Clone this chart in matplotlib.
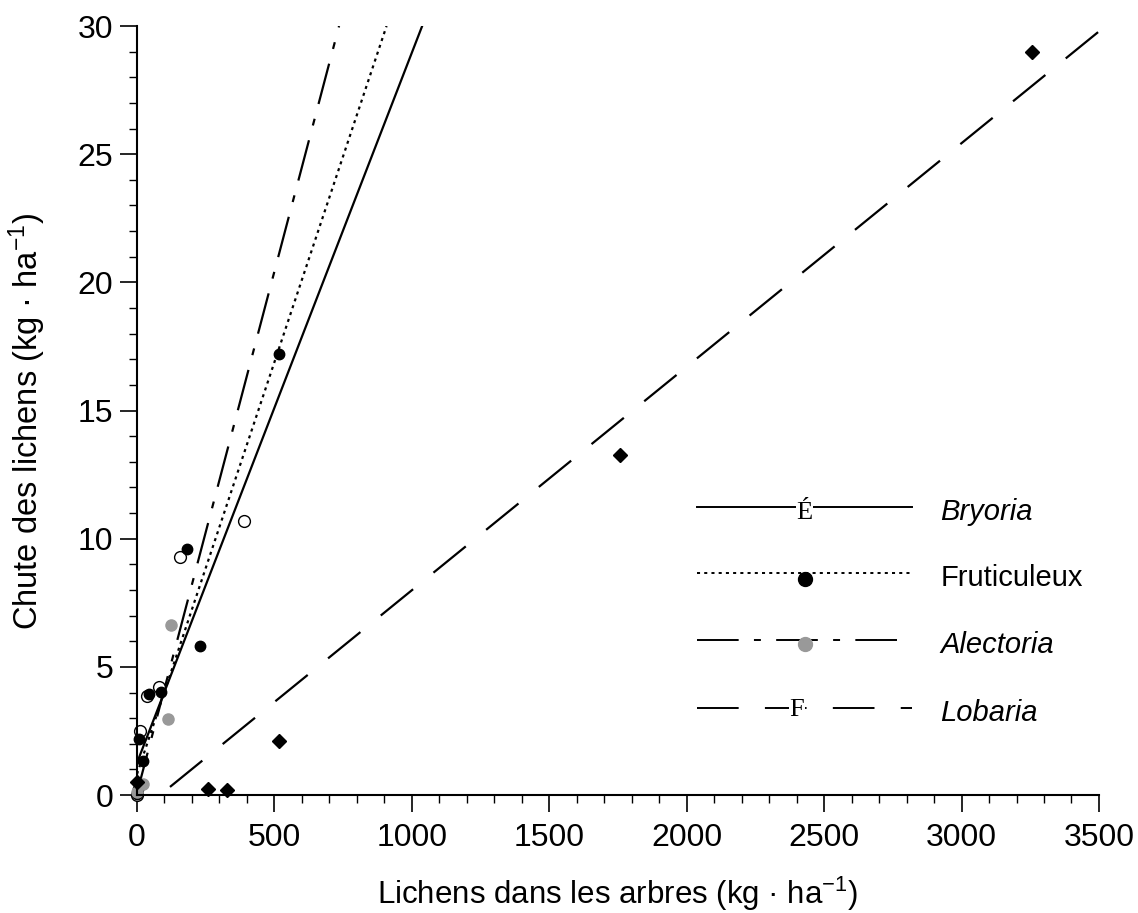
import numpy as np
import matplotlib
matplotlib.use("Agg")
import matplotlib.pyplot as plt
from matplotlib.ticker import MultipleLocator

plt.rcParams['font.family'] = ['Liberation Sans', 'DejaVu Sans']
plt.rcParams['mathtext.fontset'] = 'custom'
plt.rcParams['mathtext.rm'] = 'Liberation Sans'
plt.rcParams['mathtext.it'] = 'Liberation Sans:italic'
plt.rcParams['lines.scale_dashes'] = False

# points
bryoria_x = [0, 11, 35, 81, 156, 389]
bryoria_y = [0.0, 2.5, 3.86, 4.2, 9.27, 10.69]

fruti_x = [0, 2, 8.5, 20.6, 43.7, 86, 183, 229, 515]
fruti_y = [0.05, 0.25, 2.2, 1.33, 3.93, 4.03, 9.6, 5.81, 17.2]

alect_x = [0, 23, 114, 122]
alect_y = [0.1, 0.45, 2.96, 6.63]

lobaria_x = [0, 259, 326, 517, 1757, 3255]
lobaria_y = [0.52, 0.23, 0.2, 2.09, 13.27, 28.98]

# droites de regression: ordonnee, pente, x de depart
fits = {
    'Bryoria': (1.26, 0.0277, 0),
    'Fruticuleux': (0.82, 0.03214, 0),
    'Alectoria': (0.08, 0.0407, 0),
    'Lobaria': (-0.73, 0.00872, 120),
}
styles = {
    'Bryoria': dict(ls='-'),
    'Fruticuleux': dict(ls=(0, (2.2, 3.0))),
    'Alectoria': dict(ls=(0, (30, 11, 5, 11))),
    'Lobaria': dict(ls=(0, (30, 18.9))),
}

fig = plt.figure(figsize=(11.38, 9.13), dpi=100)
ax = fig.add_axes([0.1204, 0.1292, 0.8453, 0.8423])

xmax, ymax = 3500, 30
for name, (b, m, x0) in fits.items():
    x1 = min((ymax - b) / m, xmax)
    xs = np.array([x0, x1])
    ax.plot(xs, b + m * xs, color='black', lw=1.6, **styles[name])

ax.plot(bryoria_x, bryoria_y, 'o', mfc='white', mec='black', mew=1.0, ms=8.5, clip_on=False)
ax.plot(fruti_x, fruti_y, 'o', color='black', ms=7.5, clip_on=False)
ax.plot(alect_x, alect_y, 'o', color='#999999', ms=8, clip_on=False)
ax.plot(lobaria_x, lobaria_y, 'D', color='black', ms=7, clip_on=False)

ax.set_xlim(0, xmax)
ax.set_ylim(0, ymax)
ax.spines['top'].set_visible(False)
ax.spines['right'].set_visible(False)
for s in ['left', 'bottom']:
    ax.spines[s].set_linewidth(1.5)

ax.xaxis.set_major_locator(MultipleLocator(500))
ax.xaxis.set_minor_locator(MultipleLocator(100))
ax.yaxis.set_major_locator(MultipleLocator(5))
ax.yaxis.set_minor_locator(MultipleLocator(1))
ax.tick_params(which='major', direction='out', length=12, width=1.2, labelsize=23)
ax.tick_params(which='minor', direction='out', length=6, width=1.0)
ax.tick_params(axis='x', which='major', pad=8)
ax.tick_params(axis='y', which='major', pad=5)

ax.set_xlabel(r'Lichens dans les arbres (kg · ha$^{-1}$)', fontsize=22.5)
ax.set_ylabel(r'Chute des lichens (kg · ha$^{-1}$)', fontsize=23.5)
ax.xaxis.set_label_coords(0.5, -0.103)
ax.yaxis.set_label_coords(-0.093, 0.486)

# legende dessinee a la main
lx0, lx1, lxm, ltx = 0.582, 0.806, 0.694, 0.835
rows = [0.3745, 0.2887, 0.2016, 0.1131]
names = ['Bryoria', 'Fruticuleux', 'Alectoria', 'Lobaria']
italic = [True, False, True, True]
tr = ax.transAxes
for name, ry, it in zip(names, rows, italic):
    ax.plot([lx0, lx1], [ry, ry], transform=tr, color='black', lw=1.4,
            clip_on=False, **styles[name])
    ax.text(ltx, ry - 0.006, name, transform=tr, fontsize=21, va='center',
            ha='left', style='italic' if it else 'normal')
ax.text(lxm, rows[0] - 0.008, 'É', transform=tr, family='Liberation Serif', fontsize=19,
        ha='center', va='center', bbox=dict(fc='white', ec='none', pad=0.3))
ax.plot([lxm], [rows[1] - 0.008], 'o', transform=tr, color='black', ms=10, clip_on=False)
ax.plot([lxm], [rows[2] - 0.005], 'o', transform=tr, color='#999999', ms=10, clip_on=False)
ax.text(lxm - 0.008, rows[3] - 0.002, 'F', transform=tr, family='Liberation Serif', fontsize=19,
        ha='center', va='center', bbox=dict(fc='white', ec='none', pad=0.3))

fig.savefig('out.png', dpi=100)
